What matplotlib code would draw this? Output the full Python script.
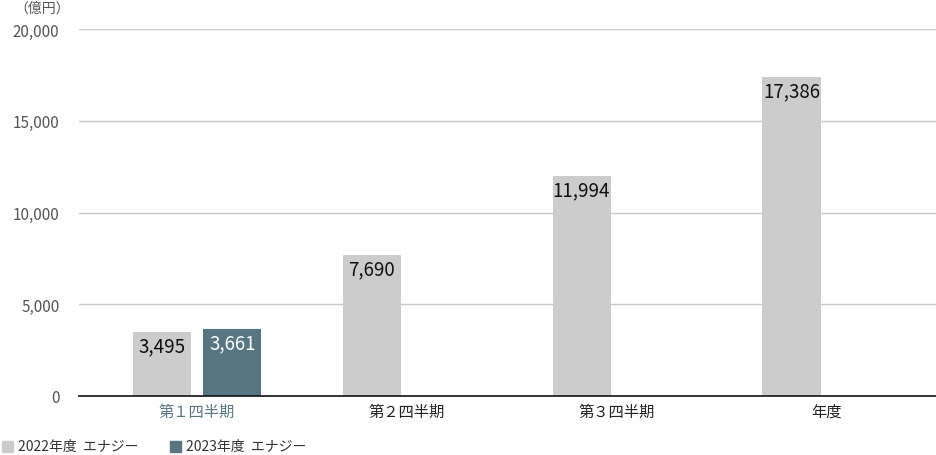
import matplotlib
matplotlib.use("Agg")
import matplotlib.pyplot as plt
import numpy as np
from matplotlib.patches import Rectangle

plt.rcParams["font.family"] = ["Noto Sans CJK JP", "DejaVu Sans"]

categories = ["第１四半期", "第２四半期", "第３四半期", "年度"]
fy2022 = [3495, 7690, 11994, 17386]
fy2023 = [3661]
series_names = ["2022年度  エナジー", "2023年度  エナジー"]
yticks = [0, 5000, 10000, 15000, 20000]

GRAY = "#cccccc"
TEAL = "#587681"

fig = plt.figure(figsize=(9.36, 4.56), dpi=100)
ax = fig.add_axes([79 / 936, 1 - 396.7 / 456, 1 - 79 / 936, (396.7 - 30.3) / 456])

x = np.arange(len(categories))
w = 0.277
off = 0.168

b1 = ax.bar(x - off, fy2022, width=w, color=GRAY, zorder=2)
b2 = ax.bar(x[:len(fy2023)] + off, fy2023, width=w, color=TEAL, zorder=2)

for rect, v in zip(b1, fy2022):
    ax.annotate(f"{v:,}", (rect.get_x() + rect.get_width() / 2, v),
                xytext=(0, -2.5), textcoords="offset points",
                ha="center", va="top", fontsize=13.5, color="#111111", zorder=3)
for rect, v in zip(b2, fy2023):
    ax.annotate(f"{v:,}", (rect.get_x() + rect.get_width() / 2, v),
                xytext=(0, -2.5), textcoords="offset points",
                ha="center", va="top", fontsize=13.5, color="white", zorder=3)

ax.set_xlim(-0.562, 3.52)
ax.set_ylim(0, 20000)
ax.set_yticks(yticks)
ax.set_yticklabels([f"{t:,}" for t in yticks], fontsize=11, color="#555555")
ax.yaxis.grid(True, color="#c8c8c8", linewidth=1, zorder=0)
ax.set_axisbelow(True)
ax.tick_params(axis="y", length=0, pad=14)
ax.tick_params(axis="x", length=0, pad=5)
ax.set_xticks(x + 0.0)
ax.set_xticklabels(categories, fontsize=11)
for i, lab in enumerate(ax.get_xticklabels()):
    lab.set_color(TEAL if i == 0 else "#222222")

for s in ["top", "right", "left"]:
    ax.spines[s].set_visible(False)
ax.spines["bottom"].set_color("#111111")
ax.spines["bottom"].set_linewidth(1.2)
ax.spines["bottom"].set_zorder(4)

fig.text(14 / 936, 1 - 9 / 456, "（億円）", fontsize=10, color="#555555",
         ha="left", va="center")

# legend at bottom-left
for xs, name, col in [(2, series_names[0], GRAY), (170, series_names[1], TEAL)]:
    fig.patches.append(Rectangle((xs / 936, 1 - 453 / 456), 11 / 936, 11 / 456,
                                 transform=fig.transFigure, color=col))
    fig.text((xs + 16) / 936, 1 - 447 / 456, name, fontsize=10, color="#333333",
             ha="left", va="center")

fig.savefig("out.png", dpi=100)
